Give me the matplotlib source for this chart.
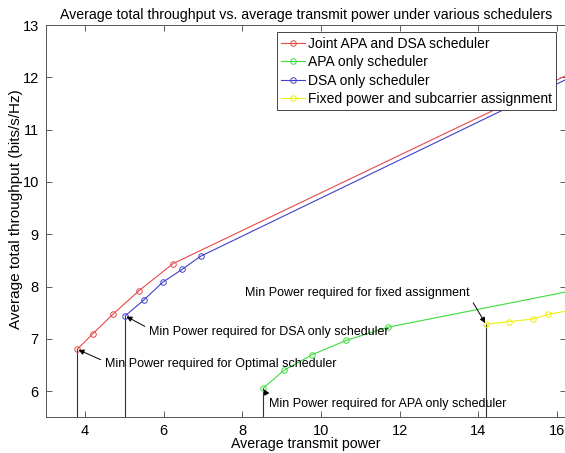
import matplotlib.pyplot as plt  # For ploting
import numpy as np

plt.rcParams['font.family'] = ['Liberation Sans', 'DejaVu Sans']

# Average transmit power / average total throughput
joint_p = [3.80, 4.20, 4.72, 5.37, 6.24, 20.0]
joint_t = [6.80, 7.10, 7.48, 7.92, 8.44, 13.39]

apa_p = [8.53, 9.06, 9.78, 10.64, 11.69, 20.0]
apa_t = [6.06, 6.40, 6.70, 6.97, 7.22, 8.46]

dsa_p = [5.02, 5.49, 5.97, 6.47, 6.94, 20.0]
dsa_t = [7.44, 7.74, 8.08, 8.33, 8.58, 13.33]

fixed_p = [14.19, 14.79, 15.40, 15.78, 16.40]
fixed_t = [7.28, 7.33, 7.38, 7.47, 7.55]

labels = ['Joint APA and DSA scheduler', 'APA only scheduler',
          'DSA only scheduler', 'Fixed power and subcarrier assignment']
colors = ['#e84848', '#3ddc3d', '#4040c8', '#eeee10']

notes = ['Min Power required for Optimal scheduler',
         'Min Power required for DSA only scheduler',
         'Min Power required for APA only scheduler',
         'Min Power required for fixed assignment']

fig = plt.figure(figsize=(5.65, 4.53), dpi=100)
ax = fig.add_axes([0.081, 0.0788, 0.921, 0.866])

series = [(joint_p, joint_t), (apa_p, apa_t), (dsa_p, dsa_t), (fixed_p, fixed_t)]
for (p, t), lab, c in zip(series, labels, colors):
    ax.plot(p, t, '-o', color=c, lw=0.8, ms=4, mfc='none', mew=0.7, label=lab)

ymin = 5.5
# vertical lines at the minimum power of each scheduler
for p, t in [(joint_p, joint_t), (dsa_p, dsa_t), (apa_p, apa_t), (fixed_p, fixed_t)]:
    ax.plot([p[0], p[0]], [ymin, t[0]], color='#333333', lw=0.8, zorder=1)

fs = 9
def note(text, pt, xytext, ha, rel):
    arrow = dict(arrowstyle='-|>', color='black', lw=0.7, mutation_scale=8,
                 shrinkA=1, shrinkB=1, relpos=rel)
    ax.annotate(text, xy=pt, xytext=xytext, fontsize=fs, va='center', ha=ha,
                arrowprops=arrow)

note(notes[0], (joint_p[0], joint_t[0]), (4.5, 6.51), 'left', (0, 0.75))
note(notes[1], (dsa_p[0], dsa_t[0]), (5.62, 7.14), 'left', (0, 0.75))
note(notes[2], (apa_p[0], apa_t[0]), (8.68, 5.76), 'left', (0, 0.9))
note(notes[3], (fixed_p[0], fixed_t[0]), (13.78, 7.87), 'right', (1, 0.2))

ax.set_xlim(3, 16.23)
ax.set_ylim(ymin, 13)
ax.set_xticks(np.arange(4, 17, 2))
ax.set_yticks(np.arange(6, 14, 1))
ax.tick_params(direction='in', length=4, width=0.6, top=True, right=True,
               labelsize=10.5, color='#444444', pad=5)
for s in ax.spines.values():
    s.set_color('#555555')
    s.set_linewidth(0.7)

ax.set_title('Average total throughput vs. average transmit power under various schedulers',
             fontsize=10.2, pad=4)
ax.set_xlabel('Average transmit power', fontsize=10.2, labelpad=-1)
ax.set_ylabel('Average total throughput (bits/s/Hz)', fontsize=11)
ax.yaxis.set_label_coords(-0.043, 0.53)

leg = ax.legend(loc='upper right', bbox_to_anchor=(0.98, 0.981), fontsize=10,
                fancybox=False, framealpha=1, edgecolor='#444444',
                handlelength=1.7, handletextpad=0.2, borderpad=0.3,
                labelspacing=0.32, borderaxespad=0)
leg.get_frame().set_linewidth(0.7)

fig.savefig('out.png', dpi=100)
